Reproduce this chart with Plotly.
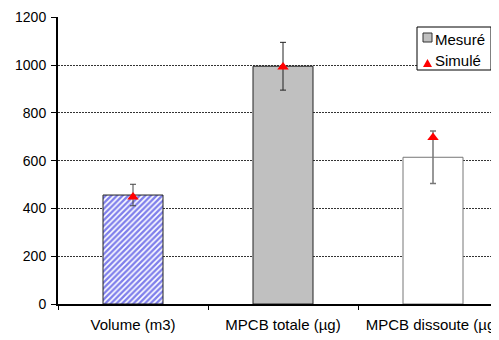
import plotly.graph_objects as go

categories = ["Volume (m3)", "MPCB totale (µg)", "MPCB dissoute (µg)"]
mesure = [456, 995, 614]
mesure_err = [45, 100, 110]
simule = [448, 992, 697]
y_ticks = [0, 200, 400, 600, 800, 1000, 1200]

# plot area in page pixels (page body has an 8px offset)
L, R, T, B = 50, 500, 9, 296


def px(x):
    return (x - L) / (R - L)


def py(y):
    return (B - y) / (B - T)


fig = go.Figure()

fig.add_trace(go.Bar(
    x=[categories[0]], y=[mesure[0]], width=0.4, showlegend=False,
    marker=dict(color="white", line=dict(color="#222", width=1),
                pattern=dict(shape="/", fgcolor="#0000D8", bgcolor="white", size=4, solidity=0.6)),
    error_y=dict(type="data", array=[mesure_err[0]], color="#444", thickness=1, width=3),
))
fig.add_trace(go.Bar(
    x=[categories[1]], y=[mesure[1]], width=0.4, showlegend=False,
    marker=dict(color="#C0C0C0", line=dict(color="#222", width=1)),
    error_y=dict(type="data", array=[mesure_err[1]], color="#222", thickness=1, width=3),
))
fig.add_trace(go.Bar(
    x=[categories[2]], y=[mesure[2]], width=0.4, showlegend=False,
    marker=dict(color="white", line=dict(color="#777", width=1)),
    error_y=dict(type="data", array=[mesure_err[2]], color="#777", thickness=1.5, width=3),
))
fig.add_trace(go.Scatter(
    x=categories, y=simule, mode="markers", showlegend=False,
    marker=dict(symbol="triangle-up", color="red", size=10),
))

# manual legend
shapes = [
    dict(type="rect", xref="paper", yref="paper",
         x0=px(409), x1=px(483), y0=py(62), y1=py(19),
         line=dict(color="black", width=1), fillcolor="white", layer="above"),
    dict(type="rect", xref="paper", yref="paper",
         x0=px(415), x1=px(424), y0=py(34), y1=py(25),
         line=dict(color="#333", width=1), fillcolor="#C0C0C0", layer="above"),
    dict(type="path", xref="paper", yref="paper",
         path=f"M {px(415)},{py(59)} L {px(424)},{py(59)} L {px(419.5)},{py(51)} Z",
         line=dict(color="red", width=0), fillcolor="red", layer="above"),
]
annotations = [
    dict(text="Mesuré", xref="paper", yref="paper", x=px(425), y=py(31),
         xanchor="left", yanchor="middle", showarrow=False, font=dict(size=15)),
    dict(text="Simulé", xref="paper", yref="paper", x=px(425), y=py(52),
         xanchor="left", yanchor="middle", showarrow=False, font=dict(size=15)),
]

fig.update_layout(
    width=500, height=340,
    margin=dict(l=L, r=0, t=T, b=340 - B),
    paper_bgcolor="white", plot_bgcolor="white",
    barmode="overlay", showlegend=False,
    font=dict(family="Liberation Sans, Arial, sans-serif", size=14, color="black"),
    shapes=shapes, annotations=annotations,
)
fig.update_xaxes(
    type="category", range=[-0.5, 2.5], tickson="boundaries",
    ticks="outside", ticklen=4, tickcolor="black",
    showline=True, linecolor="black", linewidth=1.5,
    showgrid=False, zeroline=False, tickfont=dict(size=15), automargin=False,
    ticklabelstandoff=6,
)
fig.update_yaxes(
    range=[0, 1201], tickvals=y_ticks,
    ticks="outside", ticklen=5, tickcolor="black",
    showline=True, linecolor="black", linewidth=2,
    showgrid=True, gridcolor="#333", gridwidth=1, griddash="2px,1px",
    zeroline=False, tickfont=dict(size=14), automargin=False,
    ticklabeloverflow="allow", ticklabelstandoff=2,
)

fig.write_html("out.html")
